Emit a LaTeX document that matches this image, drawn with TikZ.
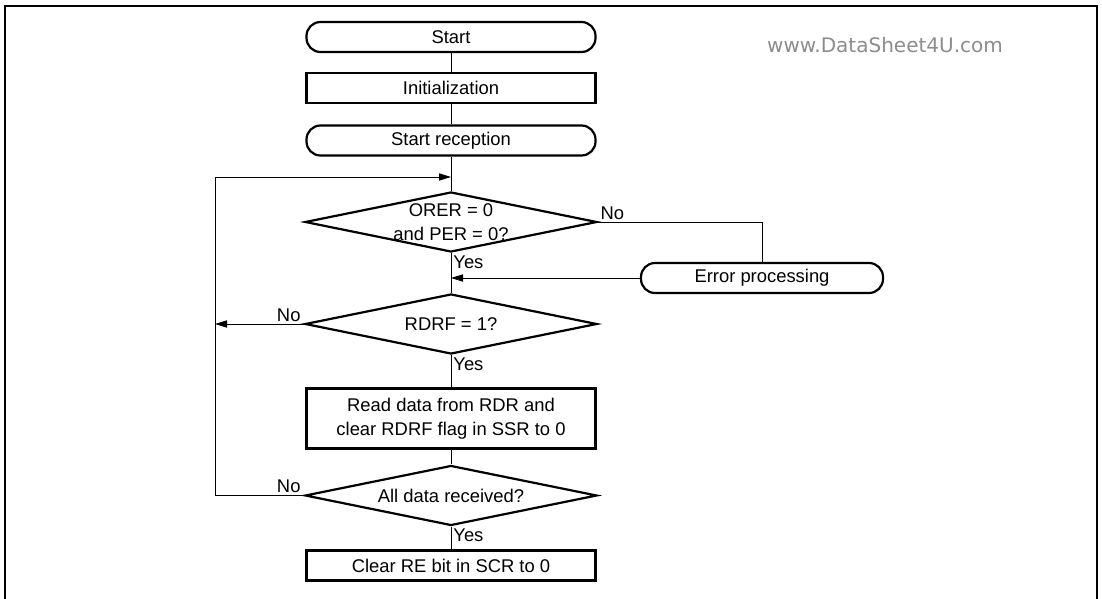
\documentclass[tikz,border=0pt]{standalone}
\usepackage{fontspec}
\setmainfont{Liberation Sans}
\newfontfamily\markfont{DejaVu Sans}
\usetikzlibrary{arrows.meta, shapes.geometric, positioning, calc}

\begin{document}
\begin{tikzpicture}[x=0.5pt, y=-0.5pt, >={Triangle[length=6pt, width=3.6pt]},
    every node/.style={font=\fontsize{9.2}{12}\selectfont},
    procbox/.style={draw, line width=1.1pt, minimum width=144.5pt, minimum height=15pt, inner sep=0pt, align=center},
    termbox/.style={procbox, rounded corners=7pt},
    decision/.style={draw, diamond, line width=1.1pt, minimum width=146pt, minimum height=30pt, inner sep=0pt},
    flow/.style={line width=0.5pt},
    answer/.style={inner sep=1pt}]

      % --- Define Dimensions ---
      \def\midX{451}
      \def\backX{215}

      \useasboundingbox (0,0) rectangle (1102,599);

      % --- Outer Frame ---
      \draw[line width=1pt] (5,620) -- (5,6) -- (1097,6) -- (1097,620);

      % --- Watermark ---
      \node[text=black!45, font=\markfont\fontsize{10}{12}\selectfont] (wmark) at (885,45) {www.DataSheet4U.com};

      % --- Main Column ---
      \node[termbox] (start) at (\midX,37) {Start};
      \node[procbox] (init) at (\midX,88) {Initialization};
      \node[termbox] (rxstart) at (\midX,140.5) {Start reception};

      \node[decision] (chk1) at (\midX,222) {};
      \node[align=center, inner sep=0pt] (chk1txt) at (chk1) {ORER = 0\\and PER = 0?};

      \node[decision] (chk2) at (\midX,324) {};
      \node[inner sep=0pt] (chk2txt) at (chk2) {RDRF = 1?};

      \node[procbox, minimum height=30pt] (read) at (\midX,418.5) {Read data from RDR and\\clear RDRF flag in SSR to 0};

      \node[decision] (chk3) at (\midX,495.5) {};
      \node[inner sep=0pt] (chk3txt) at (chk3) {All data received?};

      \node[procbox] (clr) at (\midX,565.5) {Clear RE bit in SCR to 0};

      % --- Error Branch ---
      \node[termbox, minimum width=121pt] (err) at (762,278) {Error processing};

      % --- Join Points ---
      \coordinate (loop) at (\midX,177);
      \coordinate (join) at (\midX,278);

      % --- Connectors ---
      \draw[flow] (start) -- (init);
      \draw[flow] (init) -- (rxstart);
      \draw[flow] (rxstart) -- (chk1);
      \draw[flow] (chk1) -- (chk2);
      \draw[flow] (chk2) -- (read);
      \draw[flow] (read) -- (chk3);
      \draw[flow] (chk3) -- (clr);

      \draw[flow] (chk1.east) -| (err.north);
      \draw[flow, ->] (err.west) -- (join);

      \draw[flow, ->] (chk2.west) -- (\backX,324);
      \draw[flow, ->] (chk3.west) -- (\backX,495.5) -- (\backX,177) -- (loop);

      % --- Branch Labels ---
      \node[answer, anchor=south west] (no1) at (chk1.east) {No};
      \node[answer, anchor=north west] (yes1) at (chk1.south) {Yes};
      \node[answer, anchor=south east] (no2) at ($(chk2.west)+(-1,0)$) {No};
      \node[answer, anchor=north west] (yes2) at (chk2.south) {Yes};
      \node[answer, anchor=south east] (no3) at ($(chk3.west)+(-1,0)$) {No};
      \node[answer, anchor=north west] (yes3) at (chk3.south) {Yes};

\end{tikzpicture}
\end{document}
